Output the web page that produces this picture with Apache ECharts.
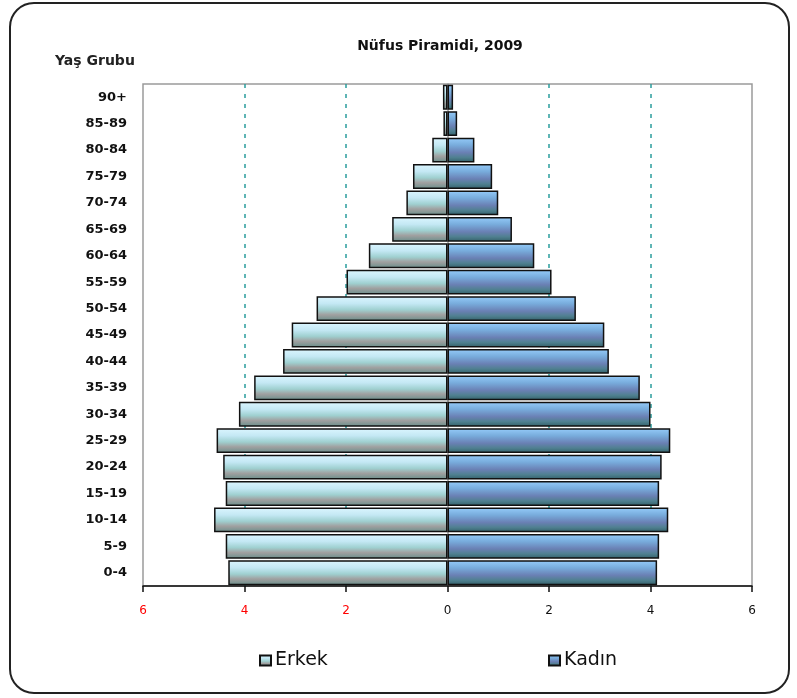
<!DOCTYPE html>
<html>
<head>
<meta charset="utf-8">
<script src="https://cdn.jsdelivr.net/npm/echarts@6/dist/echarts.min.js"></script>
<style>
html,body{margin:0;padding:0;background:#fff;}
#chart{width:797px;height:698px;}
</style>
</head>
<body>
<div id="chart"></div>
<script>
var ageGroups = ['0-4','5-9','10-14','15-19','20-24','25-29','30-34','35-39','40-44','45-49','50-54','55-59','60-64','65-69','70-74','75-79','80-84','85-89','90+'];
var erkek = [4.32,4.37,4.60,4.37,4.42,4.55,4.11,3.81,3.24,3.07,2.58,1.99,1.55,1.09,0.81,0.68,0.30,0.08,0.09];
var kadin = [4.13,4.17,4.35,4.17,4.22,4.39,4.00,3.79,3.18,3.09,2.53,2.05,1.71,1.27,1.00,0.88,0.53,0.19,0.11];
var xTicks = [-6,-4,-2,0,2,4,6];

var chart = echarts.init(document.getElementById('chart'));
var erkekFill = new echarts.graphic.LinearGradient(0,0,0,1,[
  {offset:0,color:'#dcf6ff'},{offset:0.3,color:'#c4e8f4'},{offset:0.55,color:'#9fd0d0'},
  {offset:0.75,color:'#a0a0a0'},{offset:1,color:'#688e8a'}]);
var kadinFill = new echarts.graphic.LinearGradient(0,0,0,1,[
  {offset:0,color:'#96ccfa'},{offset:0.3,color:'#78acdc'},{offset:0.6,color:'#6a80b4'},
  {offset:0.8,color:'#4f8090'},{offset:1,color:'#335f68'}]);
var teal = '#2a9d9d';
chart.setOption({
  animation:false,
  title:{text:'Nüfus Piramidi, 2009',left:435,top:34,textAlign:'center',
    textStyle:{fontFamily:'DejaVu Sans',fontSize:14,fontWeight:'bold',color:'#111'}},
  graphic:[
    {type:'rect',shape:{x:10,y:3,width:779,height:690,r:24},style:{fill:'none',stroke:'#222',lineWidth:2}},
    {type:'text',left:55,top:54,style:{text:'Yaş Grubu',font:'bold 14px "DejaVu Sans"',fill:'#222'}}
  ],
  legend:[
    {data:['Erkek'],left:254,top:646,icon:'rect',itemWidth:11,itemHeight:10,itemGap:6,
      textStyle:{fontFamily:'DejaVu Sans',fontSize:19,color:'#111',padding:[0,0,0,-1]}},
    {data:['Kadın'],left:543,top:646,icon:'rect',itemWidth:11,itemHeight:10,itemGap:6,
      textStyle:{fontFamily:'DejaVu Sans',fontSize:19,color:'#111',padding:[0,0,0,-1]}}
  ],
  grid:{left:143,right:45,top:84,bottom:112,show:true,borderColor:'#9a9a9a',borderWidth:1.5,backgroundColor:'transparent'},
  xAxis:{type:'value',min:-6,max:6,interval:2,
    axisLine:{show:true,onZero:false,lineStyle:{color:'#111',width:1.5}},
    axisTick:{show:true,length:6,lineStyle:{color:'#111',width:1.5}},
    axisLabel:{margin:19,fontFamily:'DejaVu Sans',fontSize:12,
      formatter:function(v){return v<0?'{r|'+Math.abs(v)+'}':'{b|'+v+'}';},
      rich:{r:{color:'#ff0000',fontSize:12,fontFamily:'DejaVu Sans'},b:{color:'#111',fontSize:12,fontFamily:'DejaVu Sans'}}},
    splitLine:{show:true,lineStyle:{type:[4,6],width:1.5,
      color:xTicks.map(function(t){return (t===0||Math.abs(t)===6)?'rgba(0,0,0,0)':teal;})}}
  },
  yAxis:{type:'category',data:ageGroups,
    axisLine:{show:true,lineStyle:{color:'#9a9a9a',width:1.5}},
    axisTick:{show:false},
    axisLabel:{margin:16,fontFamily:'DejaVu Sans',fontSize:13,fontWeight:'bold',color:'#111'}
  },
  series:[
    {name:'Erkek',type:'bar',stack:'p',barCategoryGap:'6%',
      data:erkek.map(function(v){return -v;}),
      itemStyle:{color:erkekFill,borderColor:'#111',borderWidth:1.5}},
    {name:'Kadın',type:'bar',stack:'p',barCategoryGap:'6%',
      data:kadin,
      itemStyle:{color:kadinFill,borderColor:'#111',borderWidth:1.5}}
  ]
});
</script>
</body>
</html>
